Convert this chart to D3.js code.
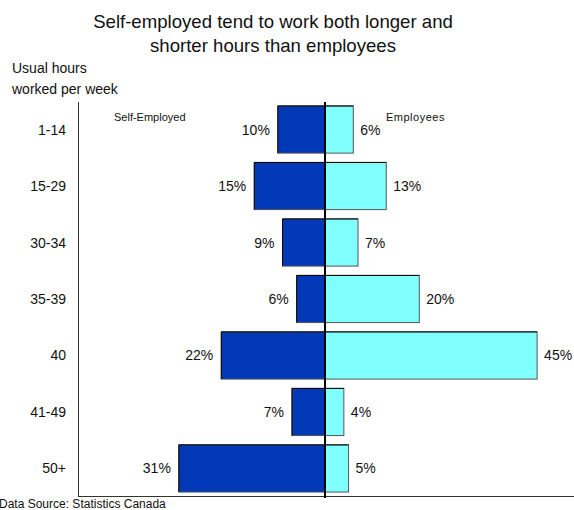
<!DOCTYPE html>
<html>
<head>
<meta charset="utf-8">
<script src="https://cdn.jsdelivr.net/npm/d3@7"></script>
<style>
  body { margin: 0; background: #fff; }
  text { font-family: "Liberation Sans", Arial, sans-serif; fill: #111; }
</style>
</head>
<body>
<div id="chart"></div>
<script>
// данные
var categories = ["1-14", "15-29", "30-34", "35-39", "40", "41-49", "50+"];
var selfEmployed = [10, 15, 9, 6, 22, 7, 31];
var employees = [6, 13, 7, 20, 45, 4, 5];

var width = 574, height = 510;

var svg = d3.select("#chart").append("svg")
    .attr("width", width)
    .attr("height", height);

var x = d3.scaleLinear().domain([-52.4, 52.4]).range([78, 572]);
var y = d3.scaleBand().domain(categories).range([102, 496])
    .paddingInner(0.165).paddingOuter(0.07);

// заголовок
svg.append("text").attr("x", 273).attr("y", 28).attr("text-anchor", "middle")
    .style("font-size", "18.6px").text("Self-employed tend to work both longer and");
svg.append("text").attr("x", 273).attr("y", 52).attr("text-anchor", "middle")
    .style("font-size", "18.6px").text("shorter hours than employees");

svg.append("text").attr("x", 12).attr("y", 73).style("font-size", "14px").text("Usual hours");
svg.append("text").attr("x", 12).attr("y", 94).style("font-size", "14px").text("worked per week");

// оси
svg.append("line").attr("x1", 78.5).attr("x2", 78.5).attr("y1", 102).attr("y2", 496.5)
    .attr("stroke", "#333");
svg.append("line").attr("x1", 78).attr("x2", 574).attr("y1", 496.5).attr("y2", 496.5)
    .attr("stroke", "#333");

svg.selectAll(".cat").data(categories).enter().append("text")
    .attr("x", 66)
    .attr("y", function(d) { return y(d) + y.bandwidth() / 2 + 5; })
    .attr("text-anchor", "end")
    .style("font-size", "14px")
    .text(function(d) { return d; });

function bars(values, cls, fill, side) {
    var g = svg.append("g").attr("class", cls);
    var rows = values.map(function(v, i) { return { v: v, c: categories[i] }; });
    g.selectAll("rect").data(rows).enter().append("rect")
        .attr("x", function(d) { return side < 0 ? x(-d.v) : x(0); })
        .attr("y", function(d) { return y(d.c); })
        .attr("width", function(d) { return x(d.v) - x(0); })
        .attr("height", y.bandwidth())
        .attr("fill", fill)
        .attr("stroke", "#555")
        .attr("stroke-width", 1);
    // чёрная кромка сверху и слева
    g.selectAll("path").data(rows).enter().append("path")
        .attr("d", function(d) {
            var x0 = side < 0 ? x(-d.v) : x(0), y0 = y(d.c);
            return "M" + x0 + "," + (y0 + y.bandwidth()) + "V" + y0 + "H" + (x0 + x(d.v) - x(0));
        })
        .attr("fill", "none").attr("stroke", "#000");
    g.selectAll("text").data(rows).enter().append("text")
        .attr("x", function(d) { return side < 0 ? x(-d.v) - 8 : x(d.v) + 7; })
        .attr("y", function(d) { return y(d.c) + y.bandwidth() / 2 + 5; })
        .attr("text-anchor", side < 0 ? "end" : "start")
        .style("font-size", "14px")
        .text(function(d) { return d.v + "%"; });
}

bars(selfEmployed, "self", "#0038B8", -1);
bars(employees, "emp", "#80FFFF", 1);

// центральная линия
svg.append("line").attr("x1", x(0)).attr("x2", x(0)).attr("y1", 102).attr("y2", 498)
    .attr("stroke", "#000").attr("stroke-width", 2);

svg.append("text").attr("x", 114).attr("y", 121).style("font-size", "11px").text("Self-Employed");
svg.append("text").attr("x", 386).attr("y", 121).style("font-size", "11px")
    .style("letter-spacing", "0.5px").text("Employees");

svg.append("text").attr("x", -1).attr("y", 508).style("font-size", "12px")
    .text("Data Source: Statistics Canada");
</script>
</body>
</html>
